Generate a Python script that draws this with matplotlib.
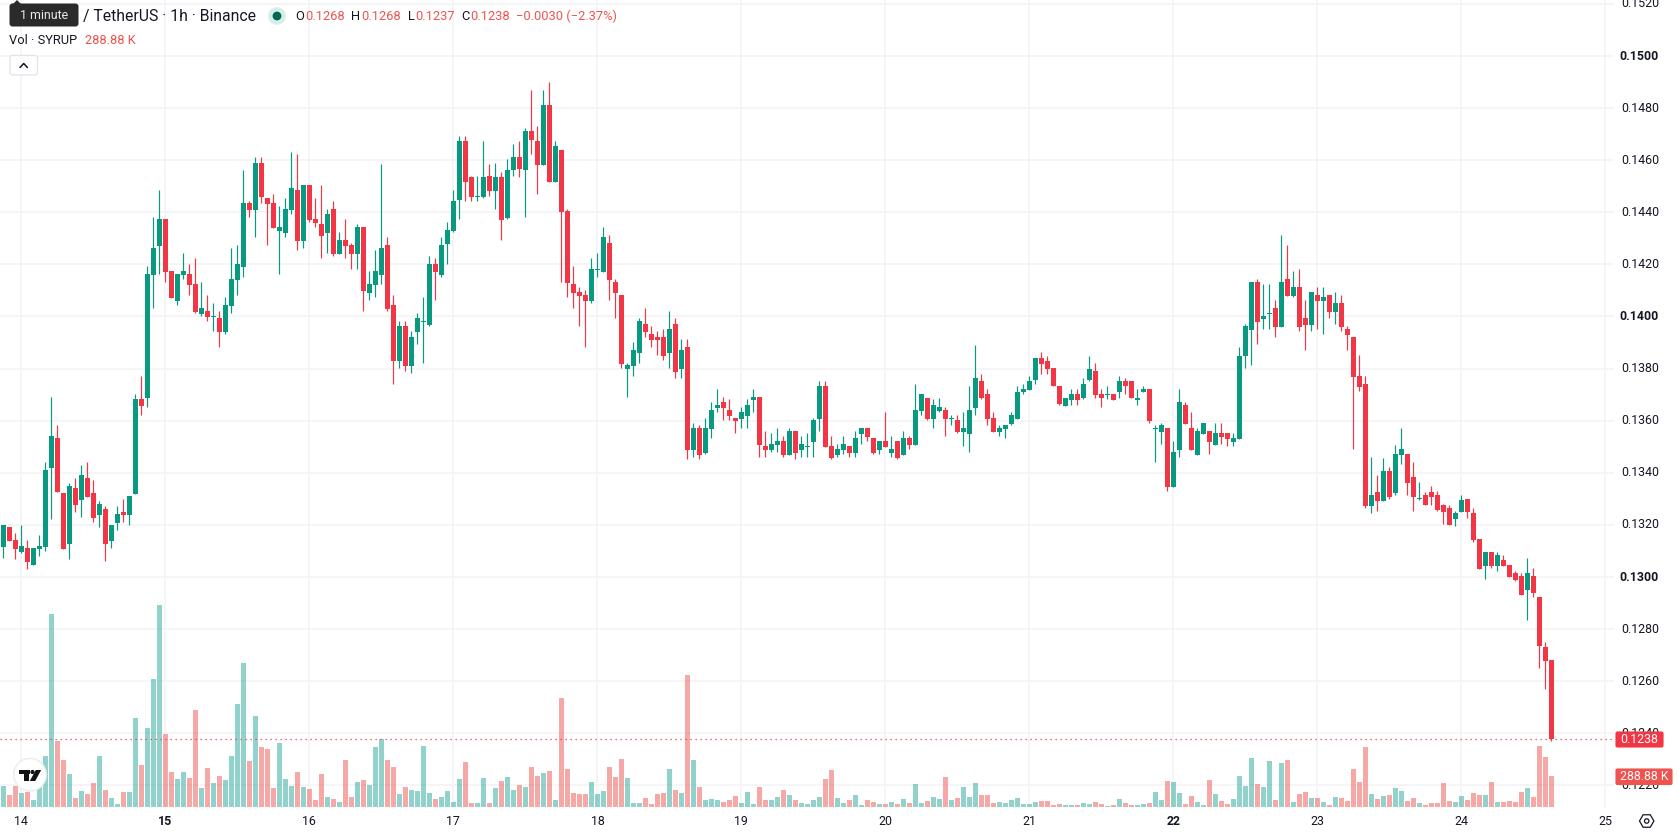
import matplotlib
matplotlib.use("Agg")
import matplotlib.pyplot as plt
from matplotlib.patches import Circle, FancyBboxPatch, Polygon, Rectangle, RegularPolygon
import numpy as np

plt.rcParams["font.family"] = ["Roboto", "DejaVu Sans"]

WIDTH, HEIGHT = 1678, 835
PLOT_RIGHT, PLOT_BOTTOM = 1614, 808

UP = "#089981"
DOWN = "#F23645"
VOL_UP = "#26A69A"
VOL_DOWN = "#EF5350"
GRID = "#F2F3F5"
TEXT = "#131722"

AXIS_SIZE = 8.9
HEADER_SIZE = 9.3

# hourly candles, 14th to 24th
opens = [
    .13117, .13193, .13143, .13097, .13112, .13047, .13109, .13116, .13419, .13534,
    .13323, .13128, .13342, .13296, .13381, .13323, .13239, .13262, .13139, .13208,
    .1325, .13239, .13319, .13683, .13687, .14158, .14269, .14373, .14174, .14059,
    .14158, .14162, .14124, .14009, .1402, .13998, .13994, .1394, .1404, .14139,
    .14189, .14434, .14407, .14591, .14453, .14434, .14327, .14319, .14407, .14484,
    .14289, .14503, .14373, .14354, .14319, .14411, .14239, .14292, .14273, .14239,
    .14342, .14089, .1412, .14158, .14273, .14043, .13829, .13963, .1381, .1394,
    .13978, .13967, .142, .14158, .14277, .14327, .14449, .14672, .14534, .14457,
    .14457, .14541, .1448, .14534, .14377, .14561, .14614, .14561, .14714, .14672,
    .1458, .14813, .14518, .14641, .14404, .14124, .14093, .14082, .14059, .14177,
    .1417, .14281, .14132, .14082, .13798, .1381, .1386, .13971, .13932, .13921,
    .13921, .1386, .13971, .13798, .13883, .13488, .13572, .13476, .13568, .13649,
    .13672, .13641, .1361, .13607, .13618, .13679, .13691, .13503, .13488, .13507,
    .13522, .13469, .13561, .13488, .13499, .13519, .13607, .13732, .13502, .13467,
    .13486, .13502, .13475, .13548, .13571, .13532, .13486, .13521, .13475, .13521,
    .13467, .13532, .13506, .13636, .13689, .13605, .13636, .1364, .13605, .13601,
    .13555, .13548, .13647, .13751, .13701, .13609, .13555, .13567, .13586, .13605,
    .13709, .13716, .13758, .13839, .13831, .13801, .13732, .13655, .13678, .13701,
    .13686, .13758, .13789, .13701, .13697, .13701, .13709, .13751, .13751, .13678,
    .13709, .1372, .13567, .13555, .13571, .13345, .13486, .13659, .13571, .13467,
    .13548, .13559, .13506, .13551, .13551, .13517, .13528, .13849, .13949, .14133,
    .13991, .1401, .14033, .1396, .14144, .14079, .14114, .13995, .13968, .14083,
    .1406, .14083, .14018, .14052, .13953, .13922, .13773, .13742, .13271, .13325,
    .1329, .13405, .13321, .1347, .13474, .13382, .13298, .13313, .13325, .13313,
    .13275, .13263, .13221, .13248, .13301, .13244, .13144, .13041, .13095, .13041,
    .13064, .13045, .13014, .13003, .12949, .13003, .12922, .12732, .1268,
]
highs = [
    .1320, .13193, .1317, .1320, .13143, .13112, .13162, .13442, .13691, .13584,
    .13323, .13361, .13381, .1343, .13442, .13373, .13292, .13273, .1320, .13273,
    .133, .13312, .13702, .13771, .14193, .14381, .14484, .14373, .14174, .14162,
    .14243, .142, .14223, .14132, .14082, .14051, .1402, .14074, .14262, .14273,
    .14564, .14442, .14614, .14614, .14453, .14472, .14423, .14453, .14633, .14622,
    .14503, .14503, .14453, .14503, .14411, .14442, .14323, .14373, .14281, .14354,
    .14342, .14174, .14254, .14584, .14304, .14082, .13982, .13982, .13944, .14013,
    .14074, .14231, .14223, .14304, .14361, .14484, .14691, .14691, .14541, .14541,
    .14672, .14584, .14591, .14553, .14603, .14664, .14672, .14722, .14871, .14733,
    .14871, .14902, .14672, .14641, .14411, .14193, .14112, .14101, .14223, .14243,
    .14342, .14312, .14143, .14082, .13821, .13902, .13994, .14032, .13963, .13944,
    .13951, .1402, .13994, .13913, .13913, .13591, .13584, .1361, .13672, .13722,
    .13691, .13683, .1361, .13653, .13683, .13722, .13691, .13561, .13553, .13572,
    .13542, .13572, .13561, .13542, .13553, .1361, .13752, .13751, .1354, .13509,
    .1354, .13502, .13559, .13571, .13571, .13532, .13521, .13632, .1354, .13521,
    .13559, .1354, .13739, .13701, .13689, .13682, .13689, .13651, .1362, .1362,
    .13632, .13732, .13892, .13781, .1372, .13632, .13582, .13582, .13632, .13732,
    .13739, .1377, .13839, .13862, .1385, .13801, .13732, .13689, .1372, .1372,
    .13762, .1385, .1382, .1372, .13732, .13701, .1377, .13762, .13751, .1372,
    .13732, .1372, .13582, .1359, .13571, .13521, .1372, .1367, .13632, .13571,
    .1359, .13559, .1359, .1359, .13551, .13551, .13881, .13972, .14133, .14144,
    .14125, .14125, .14064, .14313, .14275, .14175, .14183, .14064, .14094, .14114,
    .14114, .14083, .14094, .14083, .13964, .13922, .13853, .13773, .13462, .13393,
    .13455, .13424, .13505, .13573, .13474, .13443, .13363, .13325, .13351, .13332,
    .13282, .13275, .13252, .13313, .13301, .13263, .13144, .13095, .13095, .13095,
    .13083, .13045, .13022, .13014, .13072, .13033, .12922, .12751, .1268,
]
lows = [
    .13072, .13139, .1307, .13093, .13032, .13047, .13082, .13101, .13223, .13327,
    .13109, .1307, .1325, .13231, .13308, .13212, .13193, .13063, .13112, .13181,
    .13212, .1320, .13319, .13622, .13653, .14032, .14162, .14132, .1407, .14043,
    .14143, .14082, .14013, .14001, .13982, .13944, .13882, .13932, .14013, .14082,
    .14151, .14381, .14304, .14434, .14273, .14338, .14162, .14304, .14392, .14254,
    .14262, .14361, .14342, .14223, .14243, .14231, .14239, .14223, .14181, .14181,
    .1402, .14063, .14074, .14124, .1402, .13741, .13802, .1379, .13783, .13894,
    .13821, .13963, .14063, .14151, .142, .14323, .14373, .14442, .14442, .14442,
    .14453, .14461, .14411, .14292, .14373, .14541, .14534, .14381, .14622, .14472,
    .1458, .14518, .14518, .14132, .14074, .14032, .13963, .13883, .14051, .14151,
    .1417, .14063, .13994, .13802, .13691, .13771, .13821, .13921, .13883, .13852,
    .13833, .13802, .13764, .13764, .13453, .13461, .13453, .13473, .13534, .13634,
    .13603, .13603, .13553, .13572, .13572, .13634, .13461, .13461, .1348, .1348,
    .13461, .13469, .13453, .13461, .13461, .13461, .13561, .13498, .13452, .1346,
    .13471, .1346, .1346, .13509, .13521, .13471, .13471, .13498, .1346, .13452,
    .13467, .1349, .13506, .1362, .13601, .13571, .13632, .1354, .13582, .13551,
    .13502, .13479, .1362, .13682, .13582, .13555, .1354, .13532, .13582, .13605,
    .13701, .13716, .13739, .13781, .13781, .13732, .13659, .13655, .13659, .13659,
    .13682, .13751, .13689, .13651, .13682, .13678, .13689, .13701, .13686, .13659,
    .13709, .1359, .1344, .13509, .13329, .13345, .1346, .13586, .13486, .13467,
    .13548, .13471, .13506, .13509, .13502, .13502, .13528, .13803, .13815, .13895,
    .13953, .13953, .13922, .1396, .14079, .14075, .13945, .13872, .13945, .13953,
    .13934, .13995, .13972, .13945, .13872, .13493, .13715, .13263, .13244, .13252,
    .1329, .13301, .13313, .13432, .13313, .13252, .13294, .13278, .13275, .13252,
    .13202, .13198, .13194, .13248, .13225, .13133, .1303, .12991, .13033, .13022,
    .13041, .12999, .12983, .1293, .12834, .12922, .12651, .12571, .1237,
]
closes = [
    .1320, .13139, .13109, .1312, .13059, .13112, .1312, .13411, .13541, .13327,
    .13109, .1335, .13277, .13392, .13308, .13227, .13281, .13128, .1320, .13243,
    .13239, .13312, .13683, .13656, .14162, .14262, .14373, .1417, .1407, .14162,
    .14174, .1412, .14017, .14032, .13997, .14002, .1394, .14043, .14143, .142,
    .14434, .14407, .14591, .14457, .1443, .14338, .14342, .14411, .14492, .14289,
    .14503, .14369, .14358, .14308, .14392, .14239, .14292, .14269, .14239, .14342,
    .14097, .14124, .14174, .14262, .14028, .13829, .13963, .1381, .13921, .13993,
    .13982, .142, .1417, .14273, .14331, .14442, .14672, .14518, .14457, .14461,
    .14534, .1448, .14534, .14369, .14564, .14614, .14568, .14714, .14679, .1458,
    .14813, .14518, .14653, .144, .14128, .14089, .14078, .14059, .14181, .14181,
    .14304, .14139, .14089, .13817, .13814, .13871, .13982, .1394, .13909, .13909,
    .13848, .13951, .13787, .13871, .13488, .13572, .13469, .13572, .13641, .1366,
    .13649, .13618, .13599, .13634, .1366, .13691, .13507, .13488, .13511, .13522,
    .13469, .13561, .13476, .13511, .13503, .13603, .13733, .13498, .13456, .1349,
    .13509, .13475, .13532, .13571, .13536, .13475, .13521, .13498, .1349, .13456,
    .13532, .13506, .1364, .13701, .13605, .13659, .13651, .13605, .13609, .13555,
    .13571, .1364, .13762, .13686, .13605, .13555, .13571, .13582, .1362, .13712,
    .1372, .13751, .13839, .13816, .13797, .13735, .13666, .13689, .13701, .13678,
    .13739, .138, .13697, .13686, .13701, .13678, .13751, .13735, .13686, .13689,
    .1372, .13597, .13571, .13582, .13345, .13479, .1367, .13586, .13486, .13559,
    .1359, .13517, .13551, .13536, .13528, .13532, .1385, .13964, .14133, .1398,
    .14003, .14014, .1396, .14133, .14079, .14114, .1396, .13968, .14094, .1406,
    .14075, .14018, .14052, .1396, .1393, .13769, .13731, .13271, .13313, .1329,
    .13405, .13309, .13474, .13493, .13359, .13309, .13301, .13278, .13309, .13259,
    .13248, .13198, .13244, .13294, .13248, .13141, .1303, .13095, .13041, .13083,
    .13041, .12999, .12987, .1293, .13014, .12938, .12735, .12678, .1238,
]
# volume in thousands of SYRUP
volumes = [
    196, 112, 196, 130, 140, 65, 196, 475, 1798, 615,
    438, 307, 84, 149, 121, 224, 475, 158, 84, 28,
    140, 140, 829, 391, 736, 1193, 1882, 680, 326, 261,
    326, 270, 904, 177, 363, 224, 289, 252, 475, 960,
    1342, 429, 848, 559, 540, 177, 596, 261, 196, 326,
    186, 168, 65, 307, 93, 75, 47, 438, 93, 233,
    252, 205, 559, 634, 438, 373, 121, 186, 158, 149,
    568, 130, 75, 93, 149, 47, 261, 419, 37, 37,
    270, 37, 177, 242, 280, 158, 205, 186, 373, 289,
    317, 335, 65, 1016, 354, 130, 121, 121, 233, 121,
    149, 373, 280, 447, 270, 37, 37, 84, 28, 121,
    130, 354, 158, 130, 1230, 438, 186, 65, 75, 65,
    47, 65, 102, 37, 140, 28, 186, 65, 65, 93,
    158, 112, 65, 37, 28, 65, 93, 261, 345, 84,
    37, 65, 112, 19, 65, 47, 28, 28, 47, 28,
    75, 37, 214, 37, 56, 93, 75, 280, 65, 84,
    186, 93, 224, 112, 112, 37, 47, 37, 65, 84,
    28, 28, 47, 56, 56, 19, 28, 19, 19, 19,
    37, 28, 47, 28, 9, 19, 75, 37, 19, 19,
    28, 37, 140, 65, 242, 233, 130, 28, 102, 47,
    19, 252, 121, 56, 28, 75, 289, 196, 457, 214,
    186, 429, 65, 410, 438, 47, 121, 140, 84, 84,
    47, 19, 93, 84, 56, 354, 233, 559, 121, 75,
    102, 112, 177, 149, 56, 84, 37, 19, 37, 37,
    224, 56, 47, 102, 65, 130, 112, 112, 233, 47,
    47, 56, 47, 140, 177, 93, 568, 466, 288.88,
]

day_labels = ["14", "15", "16", "17", "18", "19", "20", "21", "22", "23", "24", "25"]
day_starts = [3, 27, 51, 75, 99, 123, 147, 171, 195, 219, 243, 267]
bold_days = ["15", "22"]
price_ticks = [.1220, .1240, .1260, .1280, .1300, .1320, .1340, .1360, .1380, .1400,
               .1420, .1440, .1460, .1480, .1500, .1520]
bold_prices = [.1300, .1400, .1500]
last_price = .1238
last_volume = "288.88 K"
ohlc_values = ["0.1268", "0.1268", "0.1237", "0.1238"]
change_text = "−0.0030 (−2.37%)"


def add_panel(pos, xlim, ylim, zorder):
    panel = plt.figure(1).add_axes(pos, zorder=zorder)
    panel.set_xlim(*xlim)
    panel.set_ylim(*ylim)
    panel.axis("off")
    return panel


def draw_grid(ax):
    for day in day_starts:
        ax.axvline(day, color=GRID, lw=1.1, zorder=0)
    for price in price_ticks:
        ax.axhline(price, color=GRID, lw=1.1, zorder=0)


def draw_candles(ax, x):
    o, h, l, c = map(np.array, (opens, highs, lows, closes))
    colors = np.where(c >= o, UP, DOWN)
    ax.vlines(x, l, h, colors=colors, lw=0.85, zorder=2)
    bottoms = np.minimum(o, c)
    heights = np.maximum(np.abs(c - o), 0.00004)
    ax.bar(x, heights, bottom=bottoms, width=0.83, color=colors, lw=0, zorder=3)


def draw_volume(ax, x):
    colors = [VOL_UP if c >= o else VOL_DOWN for o, c in zip(opens, closes)]
    ax.bar(x, volumes, width=0.83, color=colors, alpha=0.5, lw=0)


def draw_axis_labels(ui):
    for label, day in zip(day_labels, day_starts):
        px = 3.4 + 6 * day
        weight = "bold" if label in bold_days else "normal"
        ui.text(px, 821.5, label, ha="center", va="center", fontsize=AXIS_SIZE, color=TEXT, weight=weight)
    for price in price_ticks:
        py = 316.5 + (0.14 - price) / 0.002 * 52.1
        weight = "bold" if price in bold_prices else "normal"
        ui.text(1659, py, f"{price:.4f}", ha="right", va="center", fontsize=AXIS_SIZE, color=TEXT,
                weight=weight, zorder=1)

    # last price and last volume tags
    py = 316.5 + (0.14 - last_price) / 0.002 * 52.1
    ui.add_patch(FancyBboxPatch((1616, 732), 47, 15, boxstyle="round,pad=0,rounding_size=1.5",
                                fc=DOWN, ec=DOWN, lw=0.8, zorder=3))
    ui.text(1639.5, py + 0.5, f"{last_price:.4f}", ha="center", va="center", fontsize=AXIS_SIZE, color="white", zorder=4)
    ui.add_patch(FancyBboxPatch((1616, 769), 56, 15.5, boxstyle="round,pad=0,rounding_size=1.5",
                                fc=VOL_DOWN, ec=VOL_DOWN, lw=0.8, zorder=3))
    ui.text(1644, 777, last_volume, ha="center", va="center", fontsize=AXIS_SIZE, color="white", zorder=4)

    # settings cog
    ui.add_patch(RegularPolygon((1646.7, 821), 6, radius=7.2, orientation=np.pi / 6,
                                fc="none", ec=TEXT, lw=0.9))
    ui.add_patch(Circle((1646.7, 821), 2.2, fc="none", ec=TEXT, lw=0.9))


def draw_header(ui):
    ui.add_patch(FancyBboxPatch((9.5, 3.5), 69, 23, boxstyle="round,pad=0,rounding_size=3",
                                fc="#2A2A2A", ec="none", zorder=3))
    ui.add_patch(Polygon([[13, 4], [17, 0], [21, 4]], fc="#2A2A2A", ec="none", zorder=3))
    ui.text(44, 15.5, "1 minute", ha="center", va="center", fontsize=AXIS_SIZE, color="#E8E8E8", zorder=4)
    ui.text(83, 16, "/ TetherUS · 1h · Binance", ha="left", va="center", fontsize=11.3, color=TEXT)

    ui.add_patch(Circle((277, 16), 8.8, fc="#D6EEEA", ec="none"))
    ui.add_patch(Circle((277, 16), 4.4, fc="#056656", ec="none"))

    for letter, lx, value, vx in zip("OHLC", [295, 351, 408, 461], ohlc_values, [305.5, 361.5, 415.5, 470]):
        ui.text(lx, 16.5, letter, ha="left", va="center", fontsize=HEADER_SIZE, color=TEXT)
        ui.text(vx, 16.5, value, ha="left", va="center", fontsize=HEADER_SIZE, color=VOL_DOWN)
    ui.text(516.5, 16.5, change_text, ha="left", va="center", fontsize=HEADER_SIZE, color=VOL_DOWN)

    ui.text(9, 40, "Vol · SYRUP", ha="left", va="center", fontsize=HEADER_SIZE, color=TEXT)
    ui.text(85, 40, last_volume, ha="left", va="center", fontsize=HEADER_SIZE, color=VOL_DOWN)

    ui.add_patch(FancyBboxPatch((10, 55.5), 27.5, 19.5, boxstyle="round,pad=0,rounding_size=2.5",
                                fc="white", ec="#E0E3EB", lw=0.9))
    ui.plot([20, 23.7, 27.4], [67.5, 63.5, 67.5], color=TEXT, lw=1.1, solid_capstyle="round")


def draw_logo(ui):
    ui.add_patch(Circle((30, 774.7), 16.3, fc="white", ec="#ECECEC", lw=1, zorder=5))
    ui.add_patch(Rectangle((18.5, 770), 11.5, 4.2, fc="#131313", ec="none", zorder=6))
    ui.add_patch(Rectangle((23.8, 770), 5.6, 11, fc="#131313", ec="none", zorder=6))
    ui.add_patch(Circle((32.5, 772), 2.1, fc="#131313", ec="none", zorder=6))
    ui.add_patch(Polygon([[35.8, 770], [41.2, 770], [35.2, 781], [29.8, 781]], fc="#131313", ec="none", zorder=6))


def main():
    fig = plt.figure(1, figsize=(WIDTH / 100, HEIGHT / 100), dpi=100, facecolor="white")

    pos = [0, 1 - PLOT_BOTTOM / HEIGHT, PLOT_RIGHT / WIDTH, PLOT_BOTTOM / HEIGHT]
    # one bar every 6 px, first bar at 3.4 px
    x_range = ((0 - 3.4) / 6, (PLOT_RIGHT - 3.4) / 6)
    # 0.0020 of price spans 52.1 px, 0.14 sits at 316.5 px
    price_range = (0.14 - (PLOT_BOTTOM - 316.5) / 52.1 * 0.002, 0.14 + 316.5 / 52.1 * 0.002)
    # one pixel of bar height is about 9.32K, baseline one pixel above the bottom
    volume_range = (-9.32, (PLOT_BOTTOM - 1) * 9.32)

    x = np.arange(len(closes))

    ax_grid = add_panel(pos, x_range, price_range, 1)
    draw_grid(ax_grid)

    ax_vol = add_panel(pos, x_range, volume_range, 2)
    draw_volume(ax_vol, x)

    ax_price = add_panel(pos, x_range, price_range, 3)
    draw_candles(ax_price, x)
    ax_price.axhline(last_price, color=DOWN, lw=0.9, ls=(0, (1, 3)), zorder=4)

    ui = add_panel([0, 0, 1, 1], (0, WIDTH), (HEIGHT, 0), 4)
    draw_axis_labels(ui)
    draw_header(ui)
    draw_logo(ui)

    fig.savefig("out.png", dpi=100, facecolor="white")
    plt.close(fig)


if __name__ == "__main__":
    main()
